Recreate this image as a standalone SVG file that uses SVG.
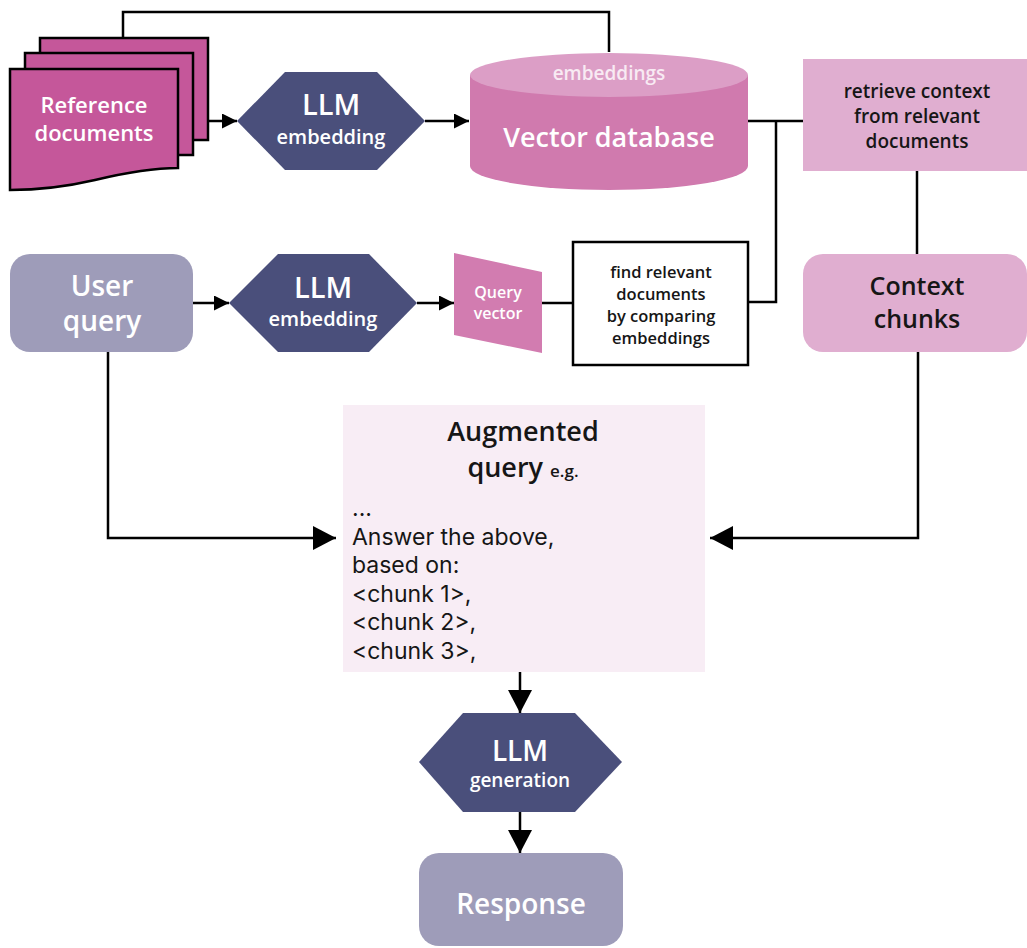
<svg xmlns="http://www.w3.org/2000/svg" width="1027" height="948" viewBox="0 0 1027 948">
<style>
  text { font-family: "Open Sans", "Liberation Sans", sans-serif; text-anchor: middle; }
  .w { fill: #ffffff; font-weight: 600; }
  .k { fill: #161616; font-weight: 600; }
  .body { font-family: Inter, "Liberation Sans", sans-serif; fill: #161616; font-weight: 400; font-size: 23px; text-anchor: start; }
  .conn { fill: none; stroke: #000; stroke-width: 2.5; }
  .page { fill: #c5579a; stroke: #000; stroke-width: 2.5; }
  .hex { fill: #4a4f7b; }
  .grey { fill: #9e9cb9; }
  .pink { fill: #e0aed0; }
</style>
<defs>
  <marker id="sa" markerUnits="userSpaceOnUse" markerWidth="16" markerHeight="16" refX="15" refY="7.5" orient="auto">
    <path d="M0,0 L15,7.5 L0,15 Z" fill="#000"/>
  </marker>
  <marker id="ba" markerUnits="userSpaceOnUse" markerWidth="24" markerHeight="26" refX="23" refY="12" orient="auto">
    <path d="M0,0 L23,12 L0,24 Z" fill="#000"/>
  </marker>
</defs>

<g id="connectors">
  <path class="conn" d="M123,38 V12 H609 V52"/>
  <path class="conn" d="M208,121 H237" marker-end="url(#sa)"/>
  <path class="conn" d="M425,121 H469" marker-end="url(#sa)"/>
  <path class="conn" d="M748,121 H803"/>
  <path class="conn" d="M748,302 H776 V121"/>
  <path class="conn" d="M917,171 V254"/>
  <path class="conn" d="M193,303 H229" marker-end="url(#sa)"/>
  <path class="conn" d="M417,303 H454" marker-end="url(#sa)"/>
  <path class="conn" d="M542,303 H573"/>
  <path class="conn" d="M108,352 V538 H336" marker-end="url(#ba)"/>
  <path class="conn" d="M918,352 V538 H710" marker-end="url(#ba)"/>
  <path class="conn" d="M520,672 V713" marker-end="url(#ba)"/>
  <path class="conn" d="M520,812 V853" marker-end="url(#ba)"/>
</g>

<g id="reference-documents">
  <rect class="page" x="40" y="38" width="168" height="102"/>
  <rect class="page" x="25" y="53" width="168" height="102"/>
  <path class="page" d="M10,69 H178 V168 C150,168 120,174 95,180 C65,187 35,190 10,190 Z"/>
  <text class="w" font-size="22" x="94" y="113">Reference</text>
  <text class="w" font-size="22" x="94" y="141">documents</text>
</g>

<g id="llm-embedding-1">
  <polygon class="hex" points="237,121 285,72 377,72 425,121 377,170 285,170"/>
  <text class="w" font-size="29" x="331" y="115">LLM</text>
  <text class="w" font-size="20" x="331" y="144">embedding</text>
</g>

<g id="vector-database">
  <path d="M470,75 V166 A139,24 0 0 0 748,166 V75 Z" fill="#d07aae"/>
  <ellipse cx="609" cy="75" rx="139" ry="22" fill="#dc9ec6"/>
  <text font-size="19" x="609" y="80" fill="#f8eaf3" font-weight="600">embeddings</text>
  <text class="w" font-size="27" x="609" y="147">Vector database</text>
</g>

<g id="retrieve-context">
  <rect class="pink" x="803" y="59" width="224" height="112"/>
  <text class="k" font-size="19" x="917" y="98">retrieve context</text>
  <text class="k" font-size="19" x="917" y="123">from relevant</text>
  <text class="k" font-size="19" x="917" y="148">documents</text>
</g>

<g id="user-query">
  <rect class="grey" x="10" y="254" width="183" height="98" rx="20"/>
  <text class="w" font-size="28" x="102" y="296">User</text>
  <text class="w" font-size="28" x="102" y="331">query</text>
</g>

<g id="llm-embedding-2">
  <polygon class="hex" points="229,303 278,254 369,254 417,303 369,352 278,352"/>
  <text class="w" font-size="29" x="323" y="298">LLM</text>
  <text class="w" font-size="20" x="323" y="326">embedding</text>
</g>

<g id="query-vector">
  <polygon points="454,253 542,272 542,353 454,335" fill="#d27cb0"/>
  <text class="w" font-size="16" x="498" y="298">Query</text>
  <text class="w" font-size="16" x="498" y="319">vector</text>
</g>

<g id="find-relevant">
  <rect x="573" y="242" width="175" height="123" fill="#fff" stroke="#000" stroke-width="2.5"/>
  <text class="k" font-size="16.5" x="661" y="278">find relevant</text>
  <text class="k" font-size="16.5" x="661" y="300">documents</text>
  <text class="k" font-size="16.5" x="661" y="322">by comparing</text>
  <text class="k" font-size="16.5" x="661" y="344">embeddings</text>
</g>

<g id="context-chunks">
  <rect class="pink" x="803" y="254" width="224" height="98" rx="20"/>
  <text class="k" font-size="25" x="917" y="295">Context</text>
  <text class="k" font-size="25" x="917" y="328">chunks</text>
</g>

<g id="augmented-query">
  <rect x="343" y="405" width="362" height="267" fill="#f8edf5"/>
  <text class="k" font-size="27" x="523" y="441">Augmented</text>
  <text class="k" font-size="27" x="523" y="477">query <tspan font-size="17">e.g.</tspan></text>
  <text class="body" x="352" y="516">...</text>
  <text class="body" x="352" y="545">Answer the above,</text>
  <text class="body" x="352" y="573">based on:</text>
  <text class="body" x="352" y="602">&lt;chunk 1&gt;,</text>
  <text class="body" x="352" y="630">&lt;chunk 2&gt;,</text>
  <text class="body" x="352" y="659">&lt;chunk 3&gt;,</text>
</g>

<g id="llm-generation">
  <polygon class="hex" points="419,762 463,713 575,713 622,762 575,812 463,812"/>
  <text class="w" font-size="28" x="520" y="761">LLM</text>
  <text class="w" font-size="19" x="520" y="787">generation</text>
</g>

<g id="response">
  <rect class="grey" x="419" y="853" width="204" height="93" rx="20"/>
  <text class="w" font-size="28" x="521" y="914">Response</text>
</g>
</svg>
